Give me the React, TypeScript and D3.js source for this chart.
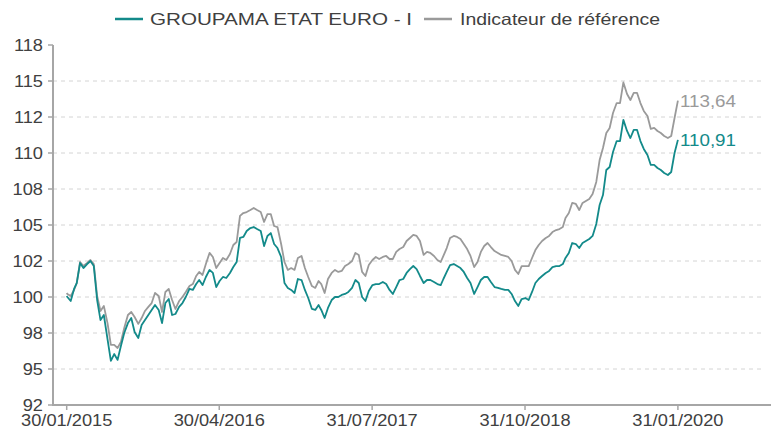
import React from "react";
import * as d3 from "d3";

const dates: string[] = [
  "2015-01-30",
  "2015-02-01","2015-02-11","2015-02-21","2015-03-01","2015-03-11","2015-03-21",
  "2015-04-01","2015-04-11","2015-04-21","2015-05-01","2015-05-11","2015-05-21",
  "2015-06-01","2015-06-11","2015-06-21","2015-07-01","2015-07-11","2015-07-21",
  "2015-08-01","2015-08-11","2015-08-21","2015-09-01","2015-09-11","2015-09-21",
  "2015-10-01","2015-10-11","2015-10-21","2015-11-01","2015-11-11","2015-11-21",
  "2015-12-01","2015-12-11","2015-12-21",
  "2016-01-01","2016-01-11","2016-01-21","2016-02-01","2016-02-11","2016-02-21",
  "2016-03-01","2016-03-11","2016-03-21","2016-04-01","2016-04-11","2016-04-21",
  "2016-05-01","2016-05-11","2016-05-21","2016-06-01","2016-06-11","2016-06-21",
  "2016-07-01","2016-07-11","2016-07-21","2016-08-01","2016-08-11","2016-08-21",
  "2016-09-01","2016-09-11","2016-09-21","2016-10-01","2016-10-11","2016-10-21",
  "2016-11-01","2016-11-11","2016-11-21","2016-12-01","2016-12-11","2016-12-21",
  "2017-01-01","2017-01-11","2017-01-21","2017-02-01","2017-02-11","2017-02-21",
  "2017-03-01","2017-03-11","2017-03-21","2017-04-01","2017-04-11","2017-04-21",
  "2017-05-01","2017-05-11","2017-05-21","2017-06-01","2017-06-11","2017-06-21",
  "2017-07-01","2017-07-11","2017-07-21","2017-08-01","2017-08-11","2017-08-21",
  "2017-09-01","2017-09-11","2017-09-21","2017-10-01","2017-10-11","2017-10-21",
  "2017-11-01","2017-11-11","2017-11-21","2017-12-01","2017-12-11","2017-12-21",
  "2018-01-01","2018-01-11","2018-01-21","2018-02-01","2018-02-11","2018-02-21",
  "2018-03-01","2018-03-11","2018-03-21","2018-04-01","2018-04-11","2018-04-21",
  "2018-05-01","2018-05-11","2018-05-21","2018-06-01","2018-06-11","2018-06-21",
  "2018-07-01","2018-07-11","2018-07-21","2018-08-01","2018-08-11","2018-08-21",
  "2018-09-01","2018-09-11","2018-09-21","2018-10-01","2018-10-11","2018-10-21",
  "2018-11-01","2018-11-11","2018-11-21","2018-12-01","2018-12-11","2018-12-21",
  "2019-01-01","2019-01-11","2019-01-21","2019-02-01","2019-02-11","2019-02-21",
  "2019-03-01","2019-03-11","2019-03-21","2019-04-01","2019-04-11","2019-04-21",
  "2019-05-01","2019-05-11","2019-05-21","2019-06-01","2019-06-11","2019-06-21",
  "2019-07-01","2019-07-11","2019-07-21","2019-08-01","2019-08-11","2019-08-21",
  "2019-09-01","2019-09-11","2019-09-21","2019-10-01","2019-10-11","2019-10-21",
  "2019-11-01","2019-11-11","2019-11-21","2019-12-01","2019-12-11","2019-12-21",
  "2020-01-01","2020-01-11","2020-01-21",
  "2020-01-31",
];

const fund: number[] = [
  100.07,
  100.0, 99.72, 100.56, 100.97, 102.36, 102.01,
  102.29, 102.5, 102.15, 99.79, 98.4, 98.75,
  97.08, 95.56, 96.04, 95.63, 96.6, 97.5,
  98.19, 98.54, 97.57, 97.15, 98.06, 98.4,
  98.75, 99.1, 99.44, 99.1, 98.19, 99.58,
  99.86, 98.75, 98.82,
  99.31, 99.58, 100.0, 100.56, 100.49, 100.9,
  101.18, 100.83, 101.39, 101.88, 101.67, 100.69,
  101.11, 101.39, 101.32, 101.67, 102.08, 102.43,
  104.1, 104.17, 104.58, 104.79, 104.86, 104.72,
  104.58, 103.54, 104.24, 104.44, 103.68, 103.4,
  102.78, 100.97, 100.63, 100.49, 100.28, 101.25,
  101.18, 100.49, 99.93, 99.17, 99.1, 99.44,
  99.1, 98.54, 99.24, 99.79, 100.0, 100.0,
  100.14, 100.21, 100.35, 100.63, 101.18, 100.97,
  100.0, 99.72, 100.42, 100.83, 100.9, 100.9,
  101.04, 100.9, 100.49, 100.21, 100.69, 101.18,
  101.25, 101.67, 101.94, 102.15, 101.94, 101.46,
  100.97, 101.18, 101.18, 101.04, 100.9, 100.83,
  101.25, 101.74, 102.22, 102.29, 102.15, 102.01,
  101.74, 101.32, 100.97, 100.21, 100.69, 101.18,
  101.39, 101.39, 101.04, 100.69, 100.63, 100.56,
  100.49, 100.49, 100.21, 99.72, 99.38, 99.86,
  99.93, 99.79, 100.35, 100.97, 101.25, 101.46,
  101.67, 101.81, 102.08, 102.15, 102.15, 102.29,
  102.71, 103.06, 103.75, 103.68, 103.4, 103.75,
  103.89, 104.03, 104.24, 105.07, 106.39, 107.08,
  108.82, 109.03, 110.07, 110.83, 110.83, 112.3,
  111.53, 111.04, 111.6, 111.6, 110.83, 110.28,
  109.86, 109.17, 109.17, 108.96, 108.82, 108.61,
  108.47, 108.68, 110.0,
  110.91,
];

const benchmark: number[] = [
  100.28,
  100.21, 100.07, 100.49, 100.97, 102.43, 102.15,
  102.36, 102.57, 102.29, 100.07, 99.03, 99.38,
  98.19, 96.67, 96.67, 96.46, 96.88, 97.85,
  98.75, 98.96, 98.61, 98.13, 98.54, 99.03,
  99.31, 99.58, 100.28, 100.07, 98.96, 100.35,
  100.56, 99.79, 99.17,
  99.72, 100.0, 100.35, 100.76, 100.9, 101.46,
  101.74, 101.53, 102.29, 103.06, 102.78, 102.01,
  102.36, 102.71, 102.57, 102.99, 103.61, 103.82,
  105.63, 105.83, 105.9, 106.04, 106.18, 106.04,
  105.9, 105.21, 105.76, 105.76, 104.93, 104.86,
  103.68, 102.43, 101.88, 102.01, 101.88, 102.71,
  102.85, 102.01, 101.39, 100.76, 100.63, 101.11,
  100.9, 100.28, 101.25, 101.67, 101.88, 101.74,
  101.81, 102.15, 102.29, 102.5, 103.06, 102.92,
  101.74, 101.46, 102.22, 102.57, 102.78, 102.64,
  102.78, 102.85, 102.64, 102.64, 103.13, 103.33,
  103.47, 103.89, 104.1, 104.31, 104.24, 103.89,
  102.92, 103.13, 103.06, 102.85, 102.57, 102.43,
  102.85, 103.4, 104.1, 104.24, 104.17, 104.03,
  103.68, 103.33, 102.85, 102.08, 102.43, 103.13,
  103.54, 103.75, 103.47, 103.19, 103.06, 102.92,
  102.85, 102.78, 102.5, 101.88, 101.6, 102.15,
  102.15, 102.15, 102.71, 103.26, 103.61, 103.89,
  104.1, 104.24, 104.51, 104.65, 104.72, 104.86,
  105.49, 105.83, 106.53, 106.46, 106.04, 106.53,
  106.67, 106.81, 107.15, 107.99, 109.51, 110.35,
  111.39, 111.74, 112.78, 113.47, 113.47, 114.9,
  114.1, 113.68, 114.17, 114.17, 113.47, 112.92,
  112.57, 111.67, 111.74, 111.53, 111.39, 111.18,
  111.04, 111.18, 112.43,
  113.64,
];

const seriesNames = ["GROUPAMA ETAT EURO - I", "Indicateur de référence"];
const seriesColors = ["#138a8a", "#9a9a9a"];
const endLabels = ["110,91", "113,64"];

const yTickValues = [92.5, 95, 97.5, 100, 102.5, 105, 107.5, 110, 112.5, 115, 117.5];
const yTickLabels = ["92", "95", "98", "100", "102", "105", "108", "110", "112", "115", "118"];
const xTickDates = ["2015-01-30", "2016-04-30", "2017-07-31", "2018-10-31", "2020-01-31"];

const W = 771;
const H = 429;
const SX = 1.14;
const FONT = "'Liberation Sans', Arial, sans-serif";
const TEXT = "#404040";

const parse = d3.timeParse("%Y-%m-%d");
const fmt = d3.timeFormat("%d/%m/%Y");

export default function App() {
  const x = d3
    .scaleTime()
    .domain([parse("2015-01-30")!, parse("2020-01-31")!])
    .range([66.7, 677.9]);
  const y = d3.scaleLinear().domain([92.5, 117.5]).range([405, 45]);

  const parsed = dates.map((d) => parse(d)!);
  const line = d3
    .line<number>()
    .x((_, i) => x(parsed[i]))
    .y((v) => y(v));

  const axisLeft = 53;
  const axisRight = 771;
  const lastDate = parsed[parsed.length - 1];

  const stretched = (
    key: string,
    tx: number,
    ty: number,
    txt: string,
    anchor: "start" | "middle" | "end",
    fill: string,
    size = 16
  ) => (
    <text
      key={key}
      transform={`translate(${tx},${ty}) scale(${SX},1)`}
      textAnchor={anchor}
      fontFamily={FONT}
      fontSize={size}
      fill={fill}
    >
      {txt}
    </text>
  );

  return (
    <svg
      width={W}
      height={H}
      style={{ position: "absolute", left: 0, top: 0, background: "#fff" }}
    >
      {/* gridlines */}
      {yTickValues
        .filter((v) => v > 92.5 && v < 117.5)
        .map((v) => (
          <line
            key={"g" + v}
            x1={axisLeft}
            x2={765}
            y1={y(v)}
            y2={y(v)}
            stroke="#d4d4d4"
            strokeWidth={1}
            strokeDasharray="4,4"
          />
        ))}

      {/* series */}
      <path d={line(benchmark) || ""} fill="none" stroke={seriesColors[1]} strokeWidth={1.8} strokeLinejoin="round" />
      <path d={line(fund) || ""} fill="none" stroke={seriesColors[0]} strokeWidth={1.8} strokeLinejoin="round" />

      {/* axes */}
      <line x1={axisLeft} x2={axisLeft} y1={y(117.5)} y2={y(92.5)} stroke="#a6a6a6" strokeWidth={2} />
      <line x1={axisLeft - 1} x2={axisRight} y1={y(92.5)} y2={y(92.5)} stroke="#a6a6a6" strokeWidth={2} />
      {yTickValues.map((v, i) => (
        <g key={"yt" + v}>
          <line x1={axisLeft - 5} x2={axisLeft} y1={y(v)} y2={y(v)} stroke="#a6a6a6" strokeWidth={1.5} />
          {stretched("yl" + v, 43, y(v) + 5.7, yTickLabels[i], "end", TEXT)}
        </g>
      ))}
      {xTickDates.map((d) => {
        const dt = parse(d)!;
        const px = x(dt);
        return (
          <g key={"xt" + d}>
            <line x1={px} x2={px} y1={y(92.5)} y2={y(92.5) + 5} stroke="#a6a6a6" strokeWidth={1.5} />
            {stretched("xl" + d, px, 426, fmt(dt), "middle", TEXT)}
          </g>
        );
      })}

      {/* end labels */}
      {stretched("e1", x(lastDate) + 2, y(benchmark[benchmark.length - 1]) + 6, endLabels[1], "start", seriesColors[1], 16.5)}
      {stretched("e0", x(lastDate) + 2, y(fund[fund.length - 1]) + 6, endLabels[0], "start", seriesColors[0], 16.5)}

      {/* legend */}
      <line x1={115} x2={143} y1={19} y2={19} stroke={seriesColors[0]} strokeWidth={2.5} />
      <text x={150} y={25} fontFamily={FONT} fontSize={16.5} fill={TEXT} textLength={262} lengthAdjust="spacingAndGlyphs">
        {seriesNames[0]}
      </text>
      <line x1={424} x2={452} y1={19} y2={19} stroke={seriesColors[1]} strokeWidth={2.5} />
      <text x={460} y={25} fontFamily={FONT} fontSize={16.5} fill={TEXT} textLength={200} lengthAdjust="spacingAndGlyphs">
        {seriesNames[1]}
      </text>
    </svg>
  );
}
